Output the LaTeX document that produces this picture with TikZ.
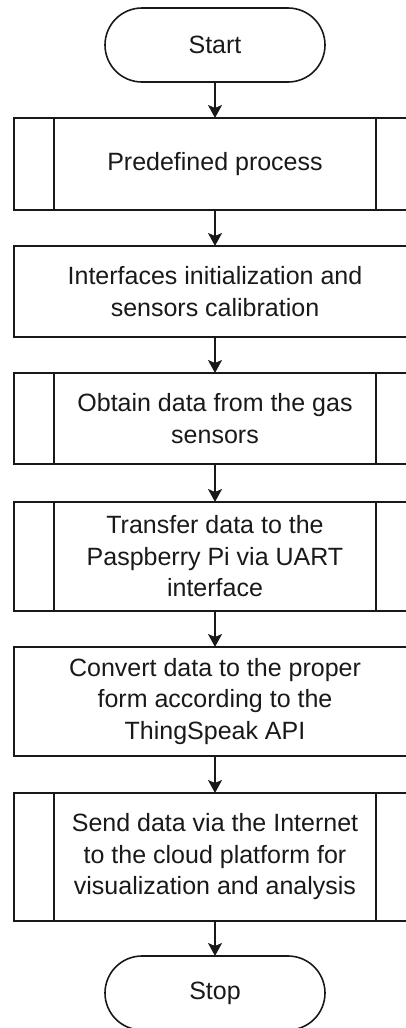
\documentclass[tikz,border=0pt]{standalone}
\usepackage{fontspec}
\setmainfont{Liberation Sans}
\usetikzlibrary{arrows.meta,shapes.misc}
\begin{document}
\begin{tikzpicture}[x=1pt,y=-1pt,
  base/.style={draw=black!90,line width=1.6pt,inner sep=0pt,outer sep=0pt,align=center,
    font=\fontsize{25}{31.5}\selectfont,text=black!90},
  term/.style={base,rounded rectangle,minimum width=220pt,minimum height=74pt},
  proc/.style={base,rectangle,minimum width=402pt},
  flow/.style={draw=black!90,line width=1.6pt,-{Stealth[length=13pt,width=14pt,inset=3pt]}},
  inner/.style={draw=black!90,line width=1.6pt}]
\path[use as bounding box,clip] (0,0) rectangle (406,1028);
\node[term] (start) at (215,45) {Start};
\node[proc,minimum height=92pt] (b1) at (215,164) {Predefined process};
\node[proc,minimum height=91pt] (b2) at (215,291.5) {Interfaces initialization and\\sensors calibration};
\node[proc,minimum height=91pt] (b3) at (215,418.5) {Obtain data from the gas\\sensors};
\node[proc,minimum height=109pt] (b4) at (215,556.5) {Transfer data to the\\Paspberry Pi via UART\\interface};
\node[proc,minimum height=109pt] (b5) at (215,701.5) {Convert data to the proper\\form according to the\\ThingSpeak API};
\node[proc,minimum height=128pt] (b6) at (215,857) {Send data via the Internet\\to the cloud platform for\\visualization and analysis};
\node[term] (stop) at (215,993) {Stop};
\foreach \b in {b1,b3,b4,b6}{
  \draw[inner] ([xshift=40pt]\b.north west) -- ([xshift=40pt]\b.south west);
  \draw[inner] ([xshift=-40pt]\b.north east) -- ([xshift=-40pt]\b.south east);
}
\draw[flow] (start) -- (b1);
\draw[flow] (b1) -- (b2);
\draw[flow] (b2) -- (b3);
\draw[flow] (b3) -- (b4);
\draw[flow] (b4) -- (b5);
\draw[flow] (b5) -- (b6);
\draw[flow] (b6) -- (stop);
\end{tikzpicture}
\end{document}
